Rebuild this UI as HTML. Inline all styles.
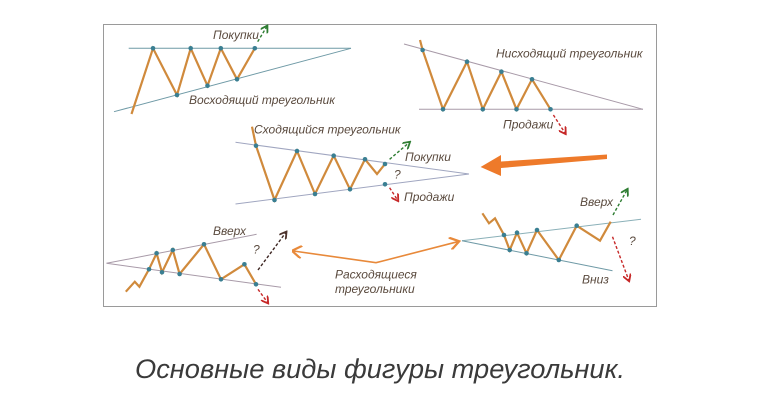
<!DOCTYPE html>
<html><head><meta charset="utf-8"><style>
html,body{margin:0;padding:0;background:#fff;width:758px;height:413px;overflow:hidden}
svg{display:block}
.l{font-family:"Liberation Sans",sans-serif;font-style:italic;font-size:12px;fill:#5a4a3e}
</style></head><body>
<svg width="758" height="413" viewBox="0 0 758 413">
<defs>
<marker id="g" markerWidth="6" markerHeight="6" refX="4" refY="3" orient="auto"><path d="M0,0 L5,3 L0,6" fill="none" stroke="#2e7d32" stroke-width="1.3"/></marker>
<marker id="r" markerWidth="6" markerHeight="6" refX="4" refY="3" orient="auto"><path d="M0,0 L5,3 L0,6" fill="none" stroke="#c62828" stroke-width="1.3"/></marker>
<marker id="k" markerWidth="6" markerHeight="6" refX="4" refY="3" orient="auto"><path d="M0,0 L5,3 L0,6" fill="none" stroke="#4e342e" stroke-width="1.3"/></marker>
<marker id="o" markerWidth="8" markerHeight="8" refX="5" refY="4" orient="auto"><path d="M0,0 L6,4 L0,8" fill="none" stroke="#e8893a" stroke-width="1.4"/></marker>
<marker id="os" markerWidth="8" markerHeight="8" refX="1" refY="4" orient="auto"><path d="M6,0 L0,4 L6,8" fill="none" stroke="#e8893a" stroke-width="1.4"/></marker>
</defs>
<rect x="103.5" y="24.5" width="553" height="282" fill="#fff" stroke="#9a9a9a" stroke-width="1"/>
<g stroke-width="1" fill="none">
<line x1="128.7" y1="48.3" x2="351" y2="48.3" stroke="#6f9aa6"/>
<line x1="114" y1="111.7" x2="351" y2="48.3" stroke="#6f9aa6"/>
<line x1="404" y1="44" x2="643" y2="109.3" stroke="#a89aa8"/>
<line x1="419" y1="109.3" x2="643" y2="109.3" stroke="#a89aa8"/>
<line x1="235.5" y1="142.3" x2="469" y2="174" stroke="#a0a6c0"/>
<line x1="235.5" y1="204" x2="469" y2="174" stroke="#a0a6c0"/>
<line x1="106.5" y1="263.3" x2="256.6" y2="234.3" stroke="#a89aa8"/>
<line x1="106.5" y1="263.3" x2="281" y2="287.3" stroke="#a89aa8"/>
<line x1="462" y1="240.7" x2="641" y2="219.3" stroke="#8ab0b8"/>
<line x1="462" y1="240.7" x2="612.5" y2="270.7" stroke="#6f9aa6"/>
</g>
<g stroke="#d08a3c" stroke-width="2.2" fill="none" stroke-linejoin="miter">
<polyline points="131.5,114 153,48.3 177,95 190.7,48.3 207.5,85.7 220.8,48.3 237,79.3 254.8,48.3"/>
<polyline points="420,40 422.6,50 443,109.3 467,61.7 482.8,109.3 501.4,71.7 516.5,109.3 532,79.3 550.5,109.3"/>
<polyline points="252,126.7 256,145.7 274.5,200 297,151 315,194 333.7,155.7 350,189.3 365,159.3 377,174 385,164"/>
<polyline points="125.8,291.7 134.8,281.7 139.4,286.7 149,269.3 156.6,253.3 162,272.3 172.8,250 179.6,274 204,244.3 221,279.3 244.4,264.3 256,284.3"/>
<polyline points="482.4,213.3 489,223.3 495,218.3 504,235 509.7,250 517,232.7 526.5,253.3 537,230 558.8,260 576.7,225.7 600,240.7 610.7,221.7"/>
</g>
<g fill="#3a7f92">
<circle cx="153" cy="48.3" r="2.3"/><circle cx="177" cy="95" r="2.3"/><circle cx="190.7" cy="48.3" r="2.3"/><circle cx="207.5" cy="85.7" r="2.3"/><circle cx="220.8" cy="48.3" r="2.3"/><circle cx="237" cy="79.3" r="2.3"/><circle cx="254.8" cy="48.3" r="2.3"/>
<circle cx="422.6" cy="50" r="2.3"/><circle cx="443" cy="109.3" r="2.3"/><circle cx="467" cy="61.7" r="2.3"/><circle cx="482.8" cy="109.3" r="2.3"/><circle cx="501.4" cy="71.7" r="2.3"/><circle cx="516.5" cy="109.3" r="2.3"/><circle cx="532" cy="79.3" r="2.3"/><circle cx="550.5" cy="109.3" r="2.3"/>
<circle cx="256" cy="145.7" r="2.3"/><circle cx="274.5" cy="200" r="2.3"/><circle cx="297" cy="151" r="2.3"/><circle cx="315" cy="194" r="2.3"/><circle cx="333.7" cy="155.7" r="2.3"/><circle cx="350" cy="189.3" r="2.3"/><circle cx="365" cy="159.3" r="2.3"/><circle cx="385" cy="164" r="2.3"/><circle cx="385" cy="184.3" r="2.3"/>
<circle cx="149" cy="269.3" r="2.3"/><circle cx="156.6" cy="253.3" r="2.3"/><circle cx="162" cy="272.3" r="2.3"/><circle cx="172.8" cy="250" r="2.3"/><circle cx="179.6" cy="274" r="2.3"/><circle cx="204" cy="244.3" r="2.3"/><circle cx="221" cy="279.3" r="2.3"/><circle cx="244.4" cy="264.3" r="2.3"/><circle cx="256" cy="284.3" r="2.3"/>
<circle cx="504" cy="235" r="2.3"/><circle cx="509.7" cy="250" r="2.3"/><circle cx="517" cy="232.7" r="2.3"/><circle cx="526.5" cy="253.3" r="2.3"/><circle cx="537" cy="230" r="2.3"/><circle cx="558.8" cy="260" r="2.3"/><circle cx="576.7" cy="225.7" r="2.3"/>
</g>
<g stroke-width="1.4" stroke-dasharray="3,2" fill="none">
<line x1="257.7" y1="41.7" x2="266.7" y2="26.7" stroke="#2e7d32" marker-end="url(#g)"/>
<line x1="553.4" y1="115" x2="565" y2="133" stroke="#c62828" marker-end="url(#r)"/>
<line x1="389.6" y1="159.3" x2="409" y2="142.7" stroke="#2e7d32" marker-end="url(#g)"/>
<line x1="389.6" y1="187.7" x2="397.5" y2="200" stroke="#c62828" marker-end="url(#r)"/>
<line x1="258" y1="270" x2="285.7" y2="232.7" stroke="#3e2723" marker-end="url(#k)"/>
<line x1="258" y1="289.3" x2="267.4" y2="302.3" stroke="#c62828" marker-end="url(#r)"/>
<line x1="613" y1="215" x2="627" y2="190" stroke="#2e7d32" marker-end="url(#g)"/>
<line x1="612.5" y1="236.7" x2="628.7" y2="280" stroke="#c62828" marker-end="url(#r)"/>
</g>
<polygon points="607,154.5 607,159 501,168 501,176 480.6,167 501,155 501,161.5" fill="#ee7a2a"/>
<polyline points="293.5,251 376,262.7 457.7,241.7" fill="none" stroke="#e8893a" stroke-width="1.6" marker-end="url(#o)" marker-start="url(#os)"/>
<text class="l" x="213" y="39">Покупки</text>
<text class="l" x="189" y="104" font-size="12.5">Восходящий треугольник</text>
<text class="l" x="496" y="57.5" font-size="12.5">Нисходящий треугольник</text>
<text class="l" x="503" y="128.5">Продажи</text>
<text class="l" x="254" y="133.5" font-size="12.5">Сходящийся треугольник</text>
<text class="l" x="405" y="161">Покупки</text>
<text class="l" x="404" y="201">Продажи</text>
<text class="l" x="394" y="178.5">?</text>
<text class="l" x="213" y="235">Вверх</text>
<text class="l" x="253" y="253.5" font-size="11">?</text>
<text class="l" x="580" y="206">Вверх</text>
<text class="l" x="582" y="283.5">Вниз</text>
<text class="l" x="629" y="245" font-size="11">?</text>
<text class="l" x="335" y="278.5" font-size="12.5">Расходящиеся</text>
<text class="l" x="335" y="293" font-size="12.5">треугольники</text>
<text x="135" y="378" font-family="Liberation Sans,sans-serif" font-style="italic" font-size="26.5" fill="#3a3a3a" textLength="490" lengthAdjust="spacingAndGlyphs">Основные виды фигуры треугольник.</text>
</svg>
</body></html>
